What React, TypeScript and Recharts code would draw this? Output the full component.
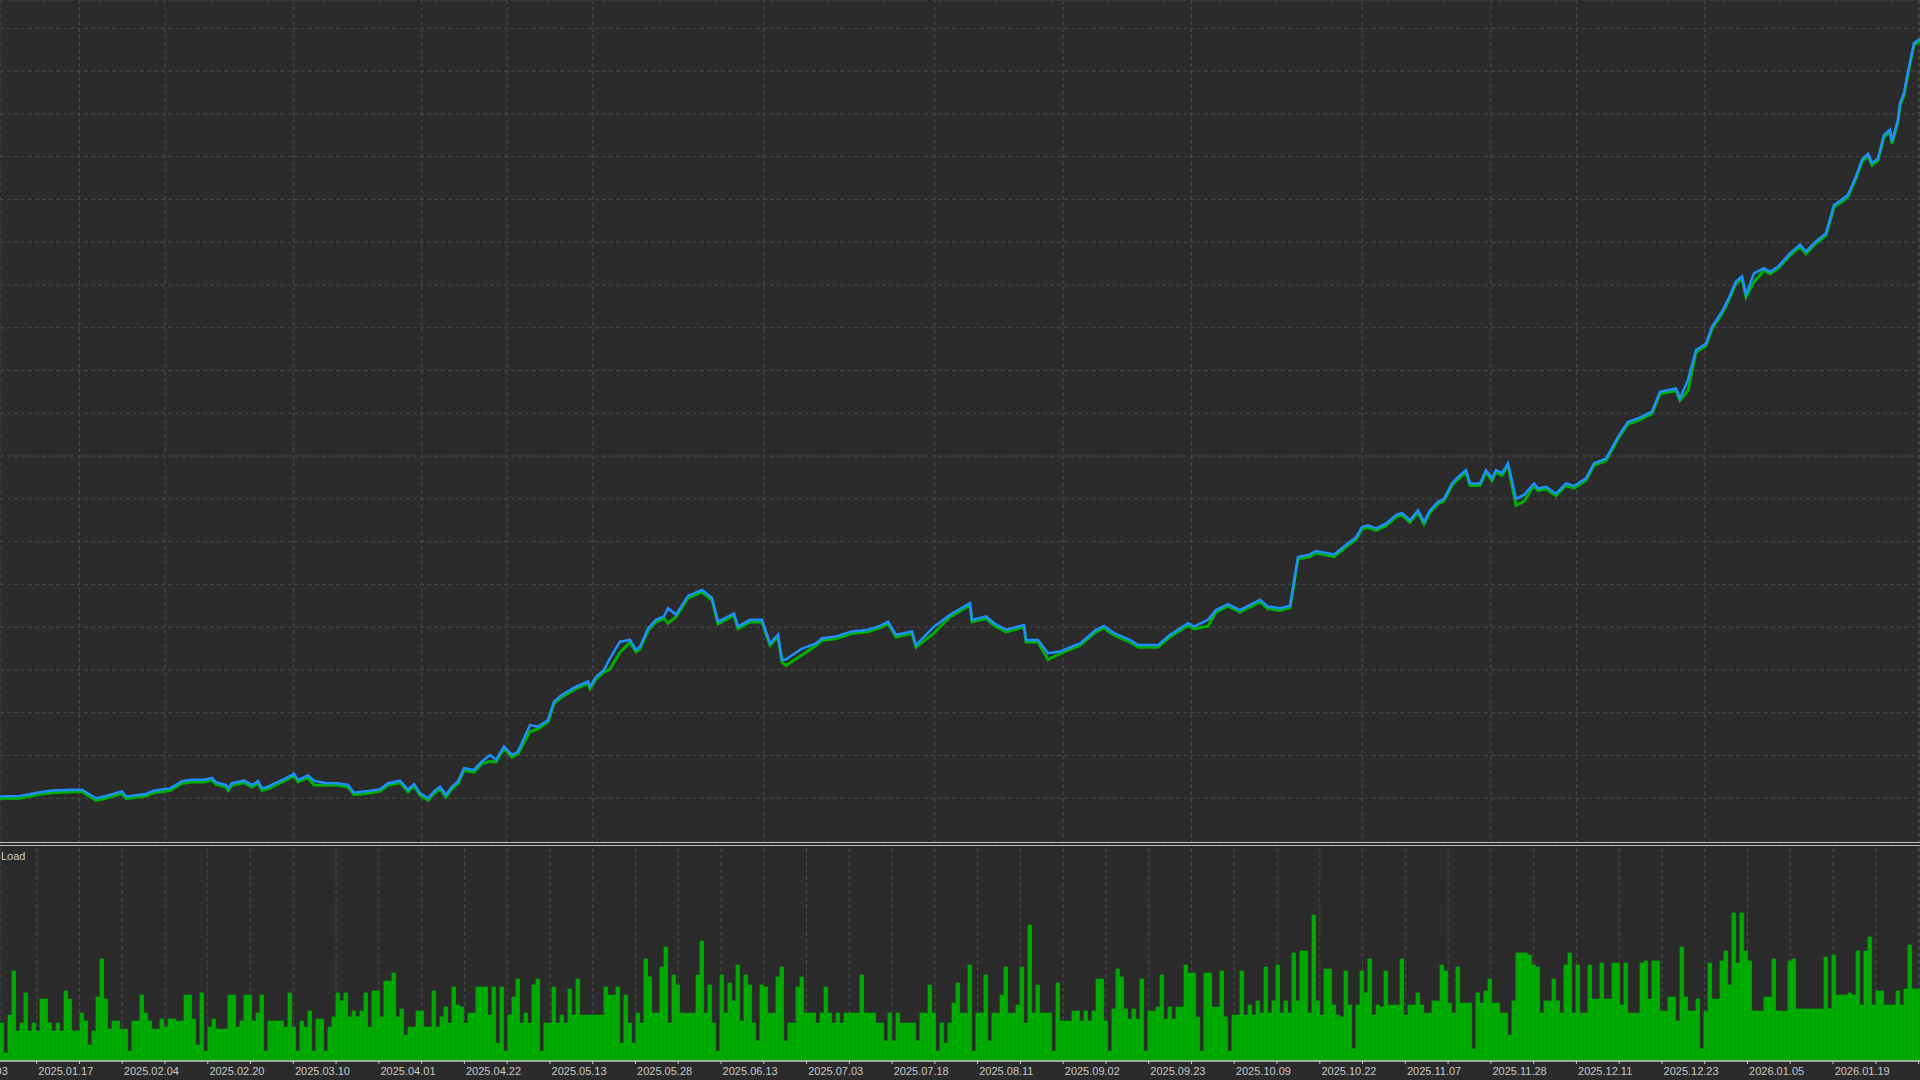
import React from 'react';
import { LineChart, Line, BarChart, Bar, XAxis, YAxis, CartesianGrid } from 'recharts';

// Deal numbers (x) and balance values
const deals = [
  0, 10, 20, 26, 37, 41, 48, 53, 61, 63,
  73, 77, 85, 91, 96, 102, 106, 108, 113, 114,
  116, 122, 126, 129, 131, 134, 143, 147, 149, 154,
  157, 163, 169, 174, 177, 183, 190, 194, 200, 204,
  207, 210, 214, 217, 220, 223, 226, 229, 232, 237,
  241, 245, 248, 252, 256, 259, 265, 269, 274, 277,
  281, 288, 294, 295, 298, 302, 305, 310, 315, 318,
  320, 324, 328, 332, 334, 338, 344, 351, 356, 359,
  367, 369, 375, 381, 385, 389, 391, 393, 401, 408,
  411, 418, 426, 434, 440, 444, 448, 456, 458, 467,
  475, 479, 485, 486, 493, 497, 503, 512, 513, 519,
  524, 530, 540, 548, 552, 557, 565, 569, 579, 585,
  594, 597, 604, 608, 614, 620, 630, 634, 640, 645,
  649, 655, 658, 667, 673, 678, 681, 684, 688, 693,
  698, 701, 705, 709, 712, 715, 719, 722, 726, 729,
  733, 735, 740, 743, 746, 748, 751, 754, 758, 762,
  767, 769, 773, 778, 783, 787, 793, 797, 803, 809,
  814, 819, 826, 830, 838, 840, 844, 848, 853, 856,
  861, 864, 868, 871, 873, 877, 882, 885, 889, 895,
  900, 903, 907, 913, 917, 922, 924, 928, 931, 934,
  936, 939, 942, 945, 946, 949, 950, 952, 954, 957, 960,
];

const balance = [
  10040, 10050, 10140, 10180, 10200, 10200, 10000, 10050, 10160, 10040,
  10100, 10180, 10230, 10400, 10430, 10430, 10470, 10370, 10310, 10230,
  10350, 10410, 10310, 10400, 10230, 10270, 10470, 10570, 10430, 10530,
  10410, 10350, 10350, 10310, 10130, 10160, 10210, 10350, 10410, 10200,
  10330, 10120, 10000, 10160, 10270, 10080, 10270, 10390, 10700, 10660,
  10860, 11010, 10900, 11210, 11010, 11090, 11710, 11670, 11830, 12260,
  12420, 12610, 12730, 12610, 12840, 13000, 13270, 13660, 13700, 13470,
  13540, 13970, 14170, 14250, 14440, 14290, 14730, 14870, 14680, 14130,
  14320, 14010, 14170, 14170, 13620, 13820, 13230, 13250, 13500, 13620,
  13740, 13780, 13900, 13940, 14030, 14130, 13820, 13900, 13580, 14010,
  14290, 14400, 14560, 14170, 14250, 14090, 13940, 14050, 13700, 13700,
  13390, 13430, 13620, 13940, 14030, 13860, 13700, 13580, 13580, 13820,
  14090, 14010, 14170, 14400, 14540, 14400, 14640, 14480, 14440, 14500,
  15640, 15700, 15780, 15700, 15920, 16100, 16340, 16380, 16310, 16420,
  16620, 16670, 16500, 16730, 16460, 16730, 16930, 17000, 17360, 17510,
  17670, 17360, 17360, 17670, 17480, 17670, 17600, 17830, 17000, 17090,
  17360, 17240, 17280, 17120, 17360, 17300, 17480, 17830, 17940, 18450,
  18800, 18880, 19040, 19500, 19580, 19350, 19780, 20480, 20630, 21020,
  21380, 21650, 22080, 22200, 21770, 22270, 22390, 22310, 22430, 22740,
  22940, 22780, 22980, 23210, 23870, 24030, 24110, 24540, 24930, 25070,
  24850, 24960, 25510, 25630, 25350, 25860, 26250, 26490, 26990, 27660, 27750,
];

// Floating loss (balance minus equity) at each point
const floating = [
  50, 50, 50, 50, 50, 50, 50, 50, 50, 50,
  50, 50, 50, 50, 50, 50, 50, 50, 50, 50,
  50, 50, 50, 50, 50, 50, 50, 50, 50, 50,
  100, 50, 50, 50, 50, 50, 50, 50, 50, 50,
  50, 50, 50, 50, 50, 50, 50, 50, 50, 50,
  50, 150, 50, 50, 50, 50, 150, 50, 50, 50,
  50, 50, 50, 50, 50, 50, 250, 250, 50, 50,
  50, 50, 50, 50, 350, 50, 50, 50, 50, 50,
  50, 50, 50, 50, 50, 50, 50, 150, 150, 50,
  50, 50, 50, 50, 50, 50, 50, 50, 50, 150,
  50, 50, 50, 50, 50, 50, 50, 50, 50, 50,
  150, 50, 50, 50, 50, 50, 50, 50, 50, 50,
  50, 50, 150, 50, 50, 50, 50, 50, 50, 50,
  50, 50, 50, 50, 50, 50, 50, 50, 50, 50,
  50, 50, 50, 50, 50, 50, 50, 50, 50, 50,
  50, 50, 50, 50, 50, 50, 50, 50, 150, 150,
  50, 50, 50, 50, 50, 50, 50, 50, 50, 50,
  50, 50, 50, 50, 50, 50, 250, 50, 50, 50,
  50, 50, 50, 50, 50, 200, 50, 50, 50, 50,
  50, 50, 50, 50, 50, 50, 50, 50, 50, 50,
  50, 50, 50, 50, 50, 50, 50, 50, 50, 50, 50,
];

// Deposit load, one value per pair of deals
const loadValues = [
  19, 4, 23, 45, 15, 19, 34, 15, 19, 15,
  31, 31, 19, 15, 19, 15, 35, 31, 15, 15,
  24, 20, 8, 15, 32, 51, 31, 16, 20, 20,
  16, 16, 5, 20, 20, 33, 24, 20, 16, 16,
  21, 17, 21, 21, 20, 20, 33, 33, 21, 8,
  34, 5, 17, 21, 16, 16, 16, 33, 33, 17,
  20, 33, 33, 20, 24, 33, 5, 20, 20, 20,
  20, 17, 34, 17, 5, 20, 17, 25, 5, 21,
  21, 5, 17, 22, 34, 30, 34, 22, 25, 22,
  25, 34, 17, 35, 35, 22, 40, 40, 44, 22,
  26, 13, 17, 17, 25, 25, 17, 17, 35, 17,
  22, 27, 19, 37, 28, 27, 19, 24, 24, 37,
  37, 37, 23, 37, 9, 37, 5, 23, 32, 41,
  19, 24, 19, 38, 41, 5, 19, 19, 37, 19,
  23, 19, 36, 23, 41, 23, 23, 23, 23, 23,
  23, 37, 33, 33, 37, 9, 33, 19, 9, 24,
  19, 51, 42, 24, 24, 47, 57, 19, 43, 38,
  24, 24, 24, 24, 43, 60, 24, 38, 19, 5,
  43, 24, 39, 30, 48, 20, 43, 38, 19, 10,
  38, 37, 24, 24, 42, 47, 10, 19, 19, 37,
  42, 24, 24, 24, 19, 24, 37, 24, 19, 24,
  19, 24, 24, 24, 24, 43, 24, 24, 24, 19,
  19, 10, 24, 10, 24, 19, 19, 19, 19, 10,
  24, 24, 38, 24, 5, 19, 9, 19, 29, 39,
  24, 24, 48, 5, 24, 24, 43, 10, 24, 24,
  33, 47, 24, 24, 28, 47, 19, 68, 24, 38,
  24, 24, 24, 5, 39, 20, 20, 20, 25, 25,
  20, 25, 20, 25, 41, 41, 20, 5, 26, 46,
  42, 26, 21, 26, 21, 41, 5, 25, 25, 27,
  43, 21, 27, 21, 27, 27, 48, 44, 44, 22,
  5, 44, 44, 27, 27, 45, 22, 5, 23, 23,
  45, 23, 28, 23, 30, 24, 47, 24, 30, 48,
  24, 30, 24, 54, 30, 55, 55, 24, 73, 30,
  23, 46, 46, 28, 23, 22, 45, 28, 6, 28,
  45, 34, 51, 23, 28, 27, 45, 28, 28, 28,
  51, 23, 28, 28, 34, 28, 24, 24, 30, 30,
  48, 45, 29, 24, 47, 29, 29, 29, 6, 34,
  29, 35, 41, 29, 29, 24, 24, 13, 30, 54,
  54, 54, 53, 48, 47, 24, 30, 30, 41, 30,
  24, 48, 54, 24, 48, 24, 24, 48, 31, 31,
  49, 31, 31, 49, 49, 28, 49, 24, 24, 24,
  49, 50, 31, 50, 50, 25, 25, 32, 32, 20,
  57, 32, 25, 25, 31, 6, 25, 49, 31, 31,
  50, 55, 38, 74, 49, 74, 55, 50, 25, 25,
  25, 32, 32, 51, 25, 25, 25, 50, 51, 26,
  26, 26, 26, 26, 26, 26, 52, 26, 53, 33,
  33, 33, 34, 33, 55, 28, 55, 62, 28, 35,
  35, 28, 28, 28, 35, 28, 36, 58, 36, 36,
];

const dateLabels = [
  '2025.01.03', '2025.01.17', '2025.02.04', '2025.02.20', '2025.03.10', '2025.04.01',
  '2025.04.22', '2025.05.13', '2025.05.28', '2025.06.13', '2025.07.03', '2025.07.18',
  '2025.08.11', '2025.09.02', '2025.09.23', '2025.10.09', '2025.10.22', '2025.11.07',
  '2025.11.28', '2025.12.11', '2025.12.23', '2026.01.05', '2026.01.19',
];

const balanceTicks = [10000, 11000, 12000, 13000, 14000, 15000, 16000, 17000, 18000, 19000,
  20000, 21000, 22000, 23000, 24000, 25000, 26000, 27000, 28000];

// ---- layout / axis configuration ----
const W = 1920;
const DEAL_MAX = 960;
const PX_PER_DEAL = W / DEAL_MAX;
const CELL_PX = 42.77;
const GRID_X0_PX = 36.7;
const gridDeals: number[] = [];
for (let k = -2; k <= 44; k++) gridDeals.push((GRID_X0_PX + CELL_PX * k) / PX_PER_DEAL);

const BG = '#2b2b2b';
const GRID = '#4a4a4a';
const TEXT = '#c8c8c8';

const lineData = deals.map((d, i) => ({ deal: d, balance: balance[i], equity: balance[i] - floating[i] }));
const loadData = loadValues.map((v, i) => ({ deal: 2 * i + 1, load: v }));

const DateTick = (props: any) => {
  const { x, y, payload } = props;
  const k = Math.round((payload.value * PX_PER_DEAL - GRID_X0_PX) / CELL_PX);
  if (k % 2 !== 0) return <g />;
  const label = dateLabels[(k + 2) / 2];
  if (!label) return <g />;
  return (
    <text x={x + 1.6} y={y + 11} fill={TEXT} fontSize={11} fontFamily="'Liberation Sans', Arial, sans-serif" textAnchor="start">
      {label}
    </text>
  );
};

export default function App() {
  return (
    <div style={{ position: 'absolute', left: 0, top: 0, width: 1920, height: 1080, background: BG, overflow: 'hidden' }}>
      <div style={{ position: 'absolute', left: 0, top: 0 }}>
        <LineChart width={1920} height={842} data={lineData} margin={{ top: 0, right: 0, bottom: 0, left: 0 }}>
          <CartesianGrid stroke={GRID} strokeDasharray="4 3" />
          <XAxis type="number" dataKey="deal" domain={[0, DEAL_MAX]} ticks={gridDeals} hide allowDataOverflow />
          <YAxis type="number" domain={[8976, 28663]} ticks={balanceTicks} hide allowDataOverflow />
          <Line type="linear" dataKey="equity" stroke="#00b000" strokeWidth={3} dot={false} activeDot={false} isAnimationActive={false} />
          <Line type="linear" dataKey="balance" stroke="#1e90ff" strokeWidth={2.5} dot={false} activeDot={false} isAnimationActive={false} />
        </LineChart>
      </div>
      <div style={{ position: 'absolute', left: 0, top: 842, width: 1920, height: 1, background: '#bdbdbd' }} />
      <div style={{ position: 'absolute', left: 0, top: 845, width: 1920, height: 1, background: '#bdbdbd' }} />
      <div style={{ position: 'absolute', left: 0, top: 848 }}>
        <BarChart width={1920} height={232} data={loadData} margin={{ top: 0, right: 0, bottom: 0, left: 0 }} barCategoryGap={0} barGap={0}>
          <CartesianGrid stroke={GRID} strokeDasharray="4 3" horizontal={false} />
          <XAxis
            type="number"
            dataKey="deal"
            domain={[0, DEAL_MAX]}
            ticks={gridDeals}
            interval={0}
            height={19}
            allowDataOverflow
            axisLine={{ stroke: TEXT, strokeWidth: 1.5 }}
            tickLine={{ stroke: TEXT }}
            tickSize={3}
            tickMargin={0}
            tick={<DateTick />}
          />
          <YAxis type="number" domain={[0, 106.5]} hide allowDataOverflow />
          <Bar dataKey="load" fill="#00aa00" stroke="#00aa00" strokeWidth={0.8} barSize={5} isAnimationActive={false} />
        </BarChart>
        <div style={{ position: 'absolute', left: 1, top: 2, color: TEXT, fontSize: 11, fontFamily: "'Liberation Sans', Arial, sans-serif", lineHeight: '13px' }}>
          Load
        </div>
      </div>
    </div>
  );
}
